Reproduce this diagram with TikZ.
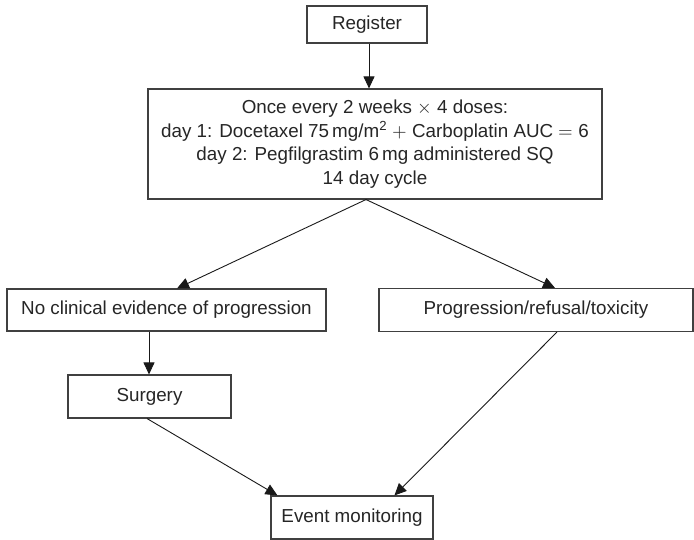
\documentclass[tikz,border=0pt]{standalone}
\usepackage{fontspec}
\setmainfont{Liberation Sans}
\usepackage{unicode-math}
\setmathfont{Latin Modern Math}
\usetikzlibrary{arrows.meta,calc}
\tikzset{
  box/.style={draw=black!75, line width=1.1pt, fill=white, align=center, inner sep=0pt,
    font=\fontsize{18.8}{23.5}\selectfont, text=black!85},
  conn/.style={draw=black!90, line width=0.9pt, -{Triangle[length=12pt,width=11pt]}}
}
\begin{document}
\begin{tikzpicture}[x=1pt,y=1pt]
\useasboundingbox (0,0) rectangle (694,540);
\node[box, minimum width=120, minimum height=37] (reg) at (367,515.5) {Register};
\node[box, minimum width=454, minimum height=110] (big) at (375,396) {Once every 2 weeks $\times$ 4 doses:\\
day 1: Docetaxel 75\,mg/m\textsuperscript{2} $+$ Carboplatin AUC $=$ 6\\
day 2: Pegfilgrastim 6\,mg administered SQ\\
14 day cycle};
\node[box, minimum width=319, minimum height=42] (noclin) at (166.5,230) {No clinical evidence of progression};
\node[box, minimum width=314, minimum height=43] (prog) at (536,230) {Progression/refusal/toxicity};
\node[box, minimum width=163, minimum height=43] (surg) at (149.5,143.5) {Surgery};
\node[box, minimum width=162, minimum height=43] (event) at (352,22.5) {Event monitoring};
\coordinate (split) at ($(big.south)+(-9,0)$);
\coordinate (regout) at ($(reg.south)+(2,0)$);
\coordinate (surgin) at ($(surg.north)+(-0.5,0)$);
\draw[conn] (regout) -- (regout |- big.north);
\draw[conn] (split) -- ($(noclin.north)+(10.5,0)$);
\draw[conn] (split) -- ($(prog.north)+(19,0)$);
\draw[conn] (surgin |- noclin.south) -- (surgin);
\draw[conn] ($(surg.south)+(-2.5,0)$) -- ($(event.north west)+(7,0)$);
\draw[conn] ($(prog.south)+(21,0)$) -- ($(event.north west)+(124,0)$);
\end{tikzpicture}
\end{document}
